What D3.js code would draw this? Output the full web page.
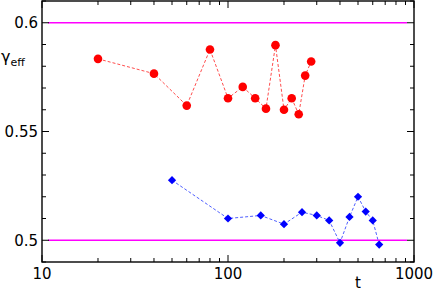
<!DOCTYPE html>
<html>
<head>
<meta charset="utf-8">
<script src="https://cdn.jsdelivr.net/npm/d3@7"></script>
<style>
  body { margin: 0; background: #fff; }
  text { font-family: "DejaVu Sans", sans-serif; }
</style>
</head>
<body>
<script>
// red series (circles)
const redT = [20, 40, 60, 80, 100, 120, 140, 160, 180, 200, 220, 240, 260, 280];
const redG = [0.5834, 0.5766, 0.5619, 0.5877, 0.5653, 0.5705, 0.5653, 0.5605, 0.5897, 0.5600, 0.5653, 0.5579, 0.5757, 0.5822];

// blue series (diamonds)
const blueT = [50, 100, 150, 200, 250, 300, 350, 400, 450, 500, 550, 600, 650];
const blueG = [0.5276, 0.5100, 0.5114, 0.5074, 0.5129, 0.5114, 0.5091, 0.4988, 0.5107, 0.5200, 0.5132, 0.5091, 0.4980];

const refLines = [0.5, 0.6];
const yMajor = [0.5, 0.55, 0.6];
const yMinor = [0.49, 0.51, 0.52, 0.53, 0.54, 0.56, 0.57, 0.58, 0.59, 0.61];
const xMajor = [10, 100, 1000];
const xMinor = [20, 30, 40, 50, 60, 70, 80, 90, 200, 300, 400, 500, 600, 700, 800, 900];

const W = 436, H = 292;
const x = d3.scaleLog().domain([10, 1000]).range([42, 414]);
const y = d3.scaleLinear().domain([0.49, 0.61]).range([262, 1]);

const svg = d3.select("body").append("svg")
  .attr("width", W)
  .attr("height", H);

// reference lines
svg.selectAll("line.ref")
  .data(refLines)
  .enter()
  .append("line")
  .attr("class", "ref")
  .attr("x1", x.range()[0] + 6)
  .attr("x2", x.range()[1] - 7)
  .attr("y1", d => y(d))
  .attr("y2", d => y(d))
  .attr("stroke", "#ff00ff")
  .attr("stroke-width", 1.4);

// ticks, inward on all four sides
const tick = (g, vals, horiz) => {
  g.selectAll("line")
    .data(vals)
    .enter()
    .append("line")
    .attr("stroke", "#000")
    .attr("stroke-width", 1)
    .each(function(d) {
      const l = d3.select(this);
      if (horiz) {
        l.attr("x1", x(d)).attr("x2", x(d));
      } else {
        l.attr("y1", y(d)).attr("y2", y(d));
      }
    });
};
const [x0, x1] = x.range();
const [yb, yt] = y.range();

const ticksG = svg.append("g");
[[xMajor, 7], [xMinor, 4]].forEach(([vals, len]) => {
  const b = ticksG.append("g"); tick(b, vals, true);
  b.selectAll("line").attr("y1", yb).attr("y2", yb - len);
  const t = ticksG.append("g"); tick(t, vals, true);
  t.selectAll("line").attr("y1", yt).attr("y2", yt + len);
});
[[yMajor, 7], [yMinor, 4]].forEach(([vals, len]) => {
  const l = ticksG.append("g"); tick(l, vals, false);
  l.selectAll("line").attr("x1", x0).attr("x2", x0 + len);
  const r = ticksG.append("g"); tick(r, vals, false);
  r.selectAll("line").attr("x1", x1).attr("x2", x1 - len);
});

// frame
svg.append("rect")
  .attr("x", x0)
  .attr("y", yt)
  .attr("width", x1 - x0)
  .attr("height", yb - yt)
  .attr("fill", "none")
  .attr("stroke", "#000")
  .attr("stroke-width", 1.4);

// tick labels
svg.selectAll("text.ylab")
  .data(yMajor)
  .enter()
  .append("text")
  .attr("class", "ylab")
  .attr("x", x0 - 4)
  .attr("y", d => y(d))
  .attr("dy", "0.36em")
  .attr("text-anchor", "end")
  .attr("font-size", "15px")
  .text(d => d3.format("")(d));

svg.selectAll("text.xlab")
  .data(xMajor)
  .enter()
  .append("text")
  .attr("class", "xlab")
  .attr("x", d => x(d))
  .attr("y", 279)
  .attr("text-anchor", "middle")
  .attr("font-size", "15px")
  .text(d => d);

// axis titles
svg.append("text")
  .attr("x", 358)
  .attr("y", 288)
  .attr("text-anchor", "middle")
  .attr("font-size", "15px")
  .text("t");

const yt_ = svg.append("text")
  .attr("x", 1)
  .attr("y", 62)
  .attr("font-size", "16px");
yt_.append("tspan").text("γ");
yt_.append("tspan")
  .attr("dy", 4)
  .attr("font-size", "11px")
  .text("eff");

// series
const red = redT.map((t, i) => [t, redG[i]]);
const blue = blueT.map((t, i) => [t, blueG[i]]);
const line = d3.line().x(d => x(d[0])).y(d => y(d[1]));

svg.append("path")
  .datum(red)
  .attr("d", line)
  .attr("fill", "none")
  .attr("stroke", "#ff4d4d")
  .attr("stroke-width", 1)
  .attr("stroke-dasharray", "3,2");

svg.append("path")
  .datum(blue)
  .attr("d", line)
  .attr("fill", "none")
  .attr("stroke", "#5060ff")
  .attr("stroke-width", 1)
  .attr("stroke-dasharray", "3,2");

svg.selectAll("circle.red")
  .data(red)
  .enter()
  .append("circle")
  .attr("class", "red")
  .attr("cx", d => x(d[0]))
  .attr("cy", d => y(d[1]))
  .attr("r", 4.3)
  .attr("fill", "#ff0000");

svg.selectAll("path.blue")
  .data(blue)
  .enter()
  .append("path")
  .attr("class", "blue")
  .attr("d", d3.symbol().type(d3.symbolSquare).size(34))
  .attr("transform", d => `translate(${x(d[0])},${y(d[1])}) rotate(45)`)
  .attr("fill", "#0000ff");
</script>
</body>
</html>
